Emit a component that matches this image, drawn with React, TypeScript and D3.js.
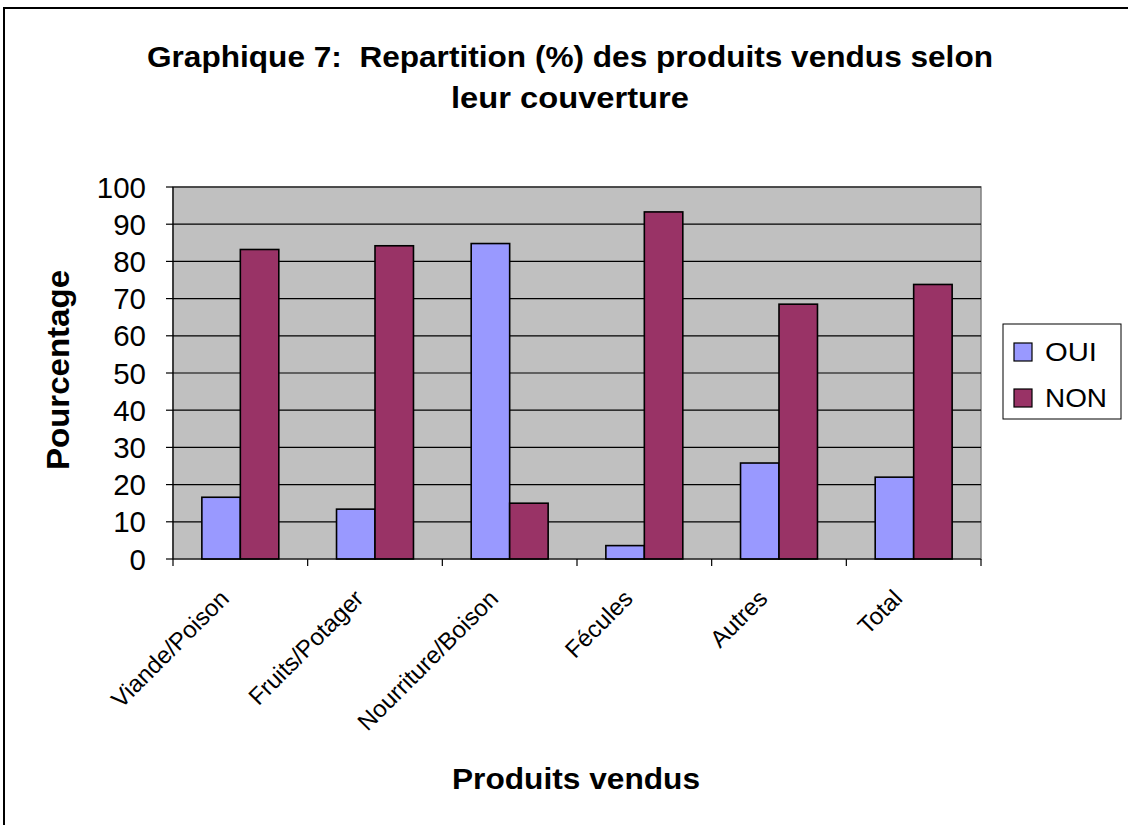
import React from "react";
import * as d3 from "d3";

const categories = ["Viande/Poison", "Fruits/Potager", "Nourriture/Boison", "Fécules", "Autres", "Total"];
const seriesNames = ["OUI", "NON"];
const ouiValues = [16.6, 13.4, 84.8, 3.6, 25.8, 22.0];
const nonValues = [83.2, 84.2, 15.0, 93.3, 68.5, 73.8];
const yTicks = [0, 10, 20, 30, 40, 50, 60, 70, 80, 90, 100];
const colors = ["#9999FF", "#993366"];
const titleLines = ["Graphique 7:  Repartition (%) des produits vendus selon", "leur couverture"];

const W = 1128, H = 825;
const plot = { left: 173, right: 981, top: 187, bottom: 559 };
const FONT = "Liberation Sans, Arial, sans-serif";

export default function App() {
  const x = d3.scaleBand<string>().domain(categories).range([plot.left, plot.right]).paddingInner(0).paddingOuter(0);
  const y = d3.scaleLinear().domain([0, 100]).range([plot.bottom, plot.top]);
  const bw = x.bandwidth() / 3.5;
  const series = [ouiValues, nonValues];
  const ticksX = d3.range(categories.length + 1).map(i => plot.left + i * x.step());
  const titleWidths = [846, 238];
  const legendWidths = [52, 62];

  return (
    <svg width={W} height={H} style={{ position: "absolute", left: 0, top: 0, background: "#fff" }} fontFamily={FONT}>
      <rect x={4} y={8} width={W + 20} height={H + 20} fill="#fff" stroke="#000" strokeWidth={2} />
      {titleLines.map((t, i) => (
        <text key={"title" + i} x={570} y={67 + i * 41} textAnchor="middle" fontSize={29} fontWeight="bold"
          textLength={titleWidths[i]} lengthAdjust="spacingAndGlyphs" style={{ whiteSpace: "pre" }}>{t}</text>
      ))}

      <rect x={plot.left} y={plot.top} width={plot.right - plot.left} height={plot.bottom - plot.top} fill="#C0C0C0" stroke="#808080" strokeWidth={1.5} />
      {yTicks.filter(t => t > 0).map(t => (
        <line key={"g" + t} x1={plot.left} x2={plot.right} y1={y(t)} y2={y(t)} stroke="#000" strokeWidth={1.2} />
      ))}
      {categories.map((c, i) => series.map((vals, s) => {
        const cx = (x(c) as number) + x.bandwidth() / 2;
        const bx = cx - bw + s * bw;
        return (
          <rect key={c + s} x={bx} y={y(vals[i])} width={bw} height={y(0) - y(vals[i])} fill={colors[s]} stroke="#000" strokeWidth={1.6} />
        );
      }))}
      <line x1={plot.left} x2={plot.left} y1={plot.top} y2={plot.bottom} stroke="#000" strokeWidth={1.2} />
      <line x1={plot.left} x2={plot.right} y1={plot.bottom} y2={plot.bottom} stroke="#000" strokeWidth={1.2} />
      {yTicks.map(t => (
        <g key={"t" + t}>
          <line x1={plot.left - 7} x2={plot.left} y1={y(t)} y2={y(t)} stroke="#000" strokeWidth={1.2} />
          <text x={146} y={y(t)} dy="0.36em" textAnchor="end" fontSize={29.5}>{t}</text>
        </g>
      ))}
      {ticksX.map((tx, i) => (
        <line key={"xt" + i} x1={tx} x2={tx} y1={plot.bottom} y2={plot.bottom + 7} stroke="#000" strokeWidth={1.2} />
      ))}
      {categories.map(c => {
        const cx = (x(c) as number) + x.bandwidth() / 2;
        return (
          <text key={"l" + c} transform={`translate(${cx - 10},${600}) rotate(-45)`} textAnchor="end" fontSize={24}>{c}</text>
        );
      })}
      <text transform={`translate(${69},${370}) rotate(-90)`} textAnchor="middle" fontSize={31} fontWeight="bold"
        textLength={200} lengthAdjust="spacingAndGlyphs">Pourcentage</text>
      <text x={576} y={789} textAnchor="middle" fontSize={30} fontWeight="bold"
        textLength={248} lengthAdjust="spacingAndGlyphs">Produits vendus</text>

      <rect x={1003} y={324} width={118} height={95} fill="#fff" stroke="#000" strokeWidth={1} />
      {seriesNames.map((n, i) => (
        <g key={n}>
          <rect x={1014} y={343 + i * 46} width={18} height={18} fill={colors[i]} stroke="#000" strokeWidth={1.2} />
          <text x={1045} y={352 + i * 46} dy="0.36em" fontSize={26}
            textLength={legendWidths[i]} lengthAdjust="spacingAndGlyphs">{n}</text>
        </g>
      ))}
    </svg>
  );
}
